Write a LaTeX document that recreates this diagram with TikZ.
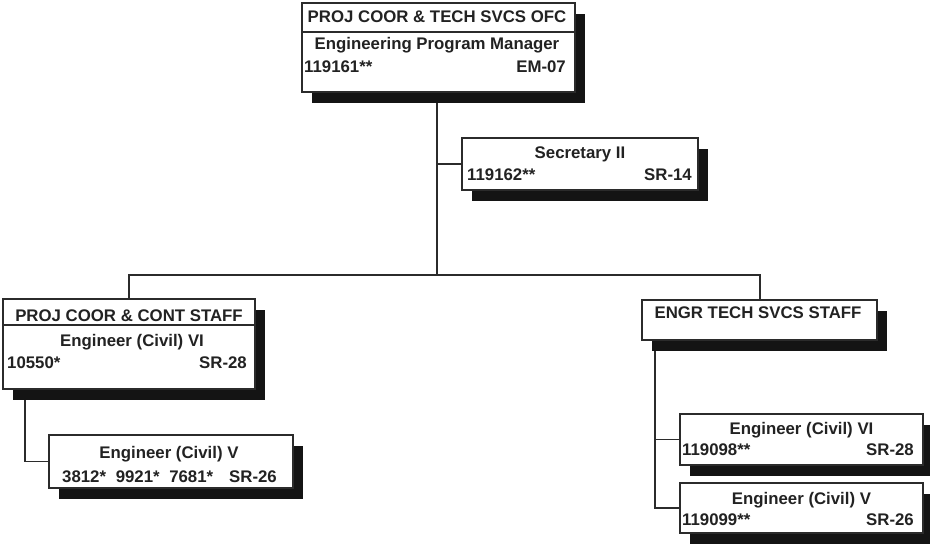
\documentclass[tikz,border=0pt]{standalone}
\usepackage{fontspec}
\setmainfont{Liberation Sans}
\usetikzlibrary{shadows}
\definecolor{ink}{HTML}{222222}
\definecolor{edge}{HTML}{2B2B2B}
\definecolor{shade}{HTML}{141414}
\begin{document}
\begin{tikzpicture}[x=1pt,y=-1pt,
  orgbox/.style={draw=edge, line width=1.4pt, fill=white, inner sep=0pt, outer sep=0pt, anchor=north west,
    drop shadow={shadow xshift=10pt, shadow yshift=-11pt, fill=shade, opacity=1}},
  link/.style={draw=edge, line width=1.5pt},
  sep/.style={draw=edge, line width=1.4pt},
  lbl/.style={text=ink, font=\bfseries\fontsize{16.8}{18}\selectfont, inner sep=0pt},
  ctr/.style={lbl, anchor=base},
  lft/.style={lbl, anchor=base west},
  rgt/.style={lbl, anchor=base east}]
\useasboundingbox (0,0) rectangle (930,546);
\fill[white] (0,0) rectangle (930,546);

% connectors (drawn first, under the boxes)
\coordinate (j) at (437,275);
\coordinate (topdrop) at (437,92);
\coordinate (secjoin) at (437,164);
\node[inner sep=0, outer sep=0, minimum width=236, minimum height=52, anchor=north west] (secpos) at (462,138) {};
\draw[link] (topdrop) -- (j);
\draw[link] (secjoin) -- (secpos.west);
\draw[link] (129,299) -- (129,275) -- (760,275) -- (760,300);
\draw[link] (25,389) |- (49,461.5);
\draw[link] (655,340) |- (680,439.5);
\draw[link] (655,439.5) |- (680,508);

% boxes
\node[orgbox, minimum width=273, minimum height=89] (top) at (302,3) {};
\draw[sep] ([yshift=-29]top.north west) -- ([yshift=-29]top.north east);
\node[orgbox, minimum width=236, minimum height=52] (sec) at (462,138) {};
\node[orgbox, minimum width=252, minimum height=90] (pcs) at (3,299) {};
\draw[sep] ([yshift=-26]pcs.north west) -- ([yshift=-26]pcs.north east);
\node[orgbox, minimum width=235, minimum height=40] (ets) at (642,300) {};
\node[orgbox, minimum width=244, minimum height=53] (lv) at (49,435) {};
\node[orgbox, minimum width=243, minimum height=51] (rvi) at (680,414) {};
\node[orgbox, minimum width=243, minimum height=50] (rv) at (680,483) {};

% texts
\node[ctr] (t1) at (437,23) {PROJ COOR \& TECH SVCS OFC};
\node[ctr] (t2) at (437,49) {Engineering Program Manager};
\node[lft] (t3) at (304,72) {119161**};
\node[rgt] (t4) at (566,72) {EM-07};

\node[ctr] (t5) at (580,158) {Secretary II};
\node[lft] (t6) at (467,180) {119162**};
\node[rgt] (t7) at (692,180) {SR-14};

\node[ctr] (t8) at (129,321) {PROJ COOR \& CONT STAFF};
\node[ctr] (t9) at (132,346) {Engineer (Civil) VI};
\node[lft] (t10) at (7,368) {10550*};
\node[rgt] (t11) at (247,368) {SR-28};

\node[ctr] (t12) at (758,318) {ENGR TECH SVCS STAFF};

\node[ctr] (t13) at (169,458) {Engineer (Civil) V};
\node[lft] (t14) at (62,482) {3812*\hspace{5pt} 9921*\hspace{5pt} 7681*};
\node[rgt] (t15) at (277,482) {SR-26};

\node[ctr] (t16) at (801.5,434) {Engineer (Civil) VI};
\node[lft] (t17) at (682,455) {119098**};
\node[rgt] (t18) at (914,455) {SR-28};

\node[ctr] (t19) at (801.5,504) {Engineer (Civil) V};
\node[lft] (t20) at (682,525) {119099**};
\node[rgt] (t21) at (914,525) {SR-26};
\end{tikzpicture}
\end{document}
